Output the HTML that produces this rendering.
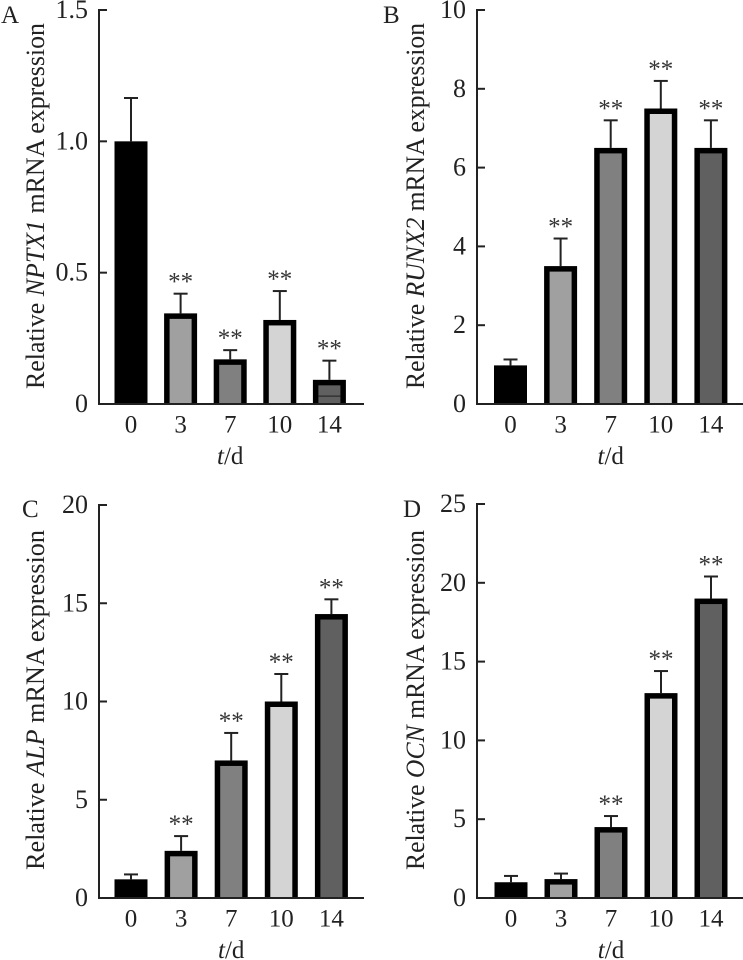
<!DOCTYPE html>
<html lang="en">
<head>
<meta charset="utf-8">
<title>Relative mRNA expression over time</title>
<style>
html,body{margin:0;padding:0;background:#fff;width:743px;height:960px;overflow:hidden}
svg{display:block;position:absolute;left:0;top:0;filter:blur(0.35px)}
text{font-family:"Liberation Serif",serif;fill:#222}
</style>
</head>
<body>
<svg id="figure" width="743" height="960" viewBox="0 0 743 960" xmlns="http://www.w3.org/2000/svg"></svg>
<script>
// Shared categories and labels
const categories = ['0', '3', '7', '10', '14'];
const barFills = ['#000000', '#a0a0a0', '#808080', '#d4d4d4', '#606060'];

// Panel A: NPTX1
const valuesA = [1, 0.345, 0.17, 0.32, 0.092];
const errorTopsA = [1.165, 0.42, 0.205, 0.43, 0.165];
const errorLowsA = [null, null, null, null, 0.03];
const significantA = [false, true, true, true, true];
const ticksA = [0, 0.5, 1, 1.5];
const tickLabelsA = ['0', '0.5', '1.0', '1.5'];

// Panel B: RUNX2
const valuesB = [0.98, 3.5, 6.5, 7.5, 6.5];
const errorTopsB = [1.13, 4.2, 7.2, 8.2, 7.2];
const errorLowsB = [null, null, null, null, null];
const significantB = [false, true, true, true, true];
const ticksB = [0, 2, 4, 6, 8, 10];
const tickLabelsB = ['0', '2', '4', '6', '8', '10'];

// Panel C: ALP
const valuesC = [0.95, 2.4, 7, 10, 14.45];
const errorTopsC = [1.2, 3.15, 8.4, 11.4, 15.2];
const errorLowsC = [null, null, null, null, null];
const significantC = [false, true, true, true, true];
const ticksC = [0, 5, 10, 15, 20];
const tickLabelsC = ['0', '5', '10', '15', '20'];

// Panel D: OCN
const valuesD = [1, 1.2, 4.5, 13, 19];
const errorTopsD = [1.4, 1.55, 5.2, 14.4, 20.4];
const errorLowsD = [null, null, null, null, null];
const significantD = [false, false, true, true, true];
const ticksD = [0, 5, 10, 15, 20, 25];
const tickLabelsD = ['0', '5', '10', '15', '20', '25'];

const NS = 'http://www.w3.org/2000/svg';
const figure = document.getElementById('figure');

function make(parent, tag, attrs, txt) {
  const el = document.createElementNS(NS, tag);
  for (const k in attrs) el.setAttribute(k, attrs[k]);
  if (txt !== undefined) el.textContent = txt;
  parent.appendChild(el);
  return el;
}

function drawPanel(cfg) {
  const g = make(figure, 'g', {});
  
  

  const maxV = cfg.ticks[cfg.ticks.length - 1];
  const yScale = v => cfg.base - (v / maxV) * (cfg.base - cfg.top);
  const xScale = i => cfg.x0 + i * cfg.step;

  // Panel letter
  const letter = make(g, 'text', {x: cfg.letterX, y: cfg.letterY, 'font-size': 25}, cfg.letter);
  
  

  // Bars
  cfg.values.forEach((v, i) => {
    const cx = xScale(i), w = 33, bw = 5.5;
    const yTop = yScale(v), yErr = yScale(cfg.errorTops[i]);

    const errLine = make(g, 'line', {x1: cx, x2: cx, y1: yErr, y2: yTop, stroke: '#222', 'stroke-width': 2});
    
    

    const errCap = make(g, 'line', {x1: cx - 7, x2: cx + 7, y1: yErr, y2: yErr, stroke: '#222', 'stroke-width': 2});
    
    

    const outer = make(g, 'rect', {x: cx - w / 2, y: yTop, width: w, height: cfg.base - yTop, fill: '#000'});
    
    

    const innerH = cfg.base - yTop - bw;
    if (i > 0 && innerH > 0) {
      const inner = make(g, 'rect', {x: cx - w / 2 + bw, y: yTop + bw, width: w - 2 * bw, height: innerH, fill: barFills[i]});
      
      
    }

    if (cfg.errorLows[i] !== null) {
      const yLow = yScale(cfg.errorLows[i]);
      const lowCap = make(g, 'line', {x1: cx - w / 2 + bw, x2: cx + w / 2 - bw, y1: yLow, y2: yLow, stroke: '#333', 'stroke-width': 1.5});
      
      
    }

    if (cfg.significant[i]) {
      const stars = make(g, 'text', {x: cx, y: yErr - 4, 'font-size': 25, 'text-anchor': 'middle', style: 'fill:#333'}, '**');
      
      
    }

    const xt = make(g, 'text', {x: cx, y: cfg.base + 28.5, 'font-size': 25, 'text-anchor': 'middle'}, categories[i]);
    
    
  });

  // Axes
  const yAxis = make(g, 'line', {x1: cfg.axisX, x2: cfg.axisX, y1: cfg.top - 1, y2: cfg.base + 1, stroke: '#222', 'stroke-width': 2});
  
  

  const xAxis = make(g, 'line', {x1: cfg.axisX - 1, x2: cfg.axisEnd, y1: cfg.base, y2: cfg.base, stroke: '#222', 'stroke-width': 2});
  
  

  cfg.ticks.forEach((t, i) => {
    const y = yScale(t);
    if (t !== 0) {
      const tick = make(g, 'line', {x1: cfg.axisX, x2: cfg.axisX + 8, y1: y, y2: y, stroke: '#222', 'stroke-width': 2});
      
      
    }
    const lab = make(g, 'text', {x: cfg.axisX - 11, y: y + 8, 'font-size': 26, 'text-anchor': 'end'}, cfg.tickLabels[i]);
    
    
  });

  // X axis title
  const xTitle = make(g, 'text', {x: cfg.x0 + 2 * cfg.step, y: cfg.base + 60, 'font-size': 25, 'text-anchor': 'middle'});
  
  
  make(xTitle, 'tspan', {'font-style': 'italic'}, 't');
  make(xTitle, 'tspan', {}, '/d');

  // Y axis title
  const yTitle = make(g, 'text', {
    transform: 'translate(' + cfg.titleX + ',' + cfg.titleBottom + ') rotate(-90)',
    x: 0, y: 0, 'font-size': 26.5,
    textLength: cfg.titleLen, lengthAdjust: 'spacingAndGlyphs'
  });
  
  
  make(yTitle, 'tspan', {}, 'Relative ');
  make(yTitle, 'tspan', {'font-style': 'italic'}, cfg.gene);
  make(yTitle, 'tspan', {}, ' mRNA expression');
}

drawPanel({letter: 'A', gene: 'NPTX1', values: valuesA, errorTops: errorTopsA, errorLows: errorLowsA, significant: significantA, ticks: ticksA, tickLabels: tickLabelsA,
  axisX: 99, axisEnd: 364, top: 10, base: 404, x0: 131, step: 49.6, letterX: 1, letterY: 23, titleX: 44, titleBottom: 389, titleLen: 366});
drawPanel({letter: 'B', gene: 'RUNX2', values: valuesB, errorTops: errorTopsB, errorLows: errorLowsB, significant: significantB, ticks: ticksB, tickLabels: tickLabelsB,
  axisX: 477, axisEnd: 743, top: 10, base: 404, x0: 510.5, step: 50.1, letterX: 383, letterY: 23, titleX: 424, titleBottom: 389, titleLen: 366});
drawPanel({letter: 'C', gene: 'ALP', values: valuesC, errorTops: errorTopsC, errorLows: errorLowsC, significant: significantC, ticks: ticksC, tickLabels: tickLabelsC,
  axisX: 99, axisEnd: 364, top: 505, base: 898, x0: 131, step: 50.1, letterX: 22, letterY: 517, titleX: 44, titleBottom: 870, titleLen: 340});
drawPanel({letter: 'D', gene: 'OCN', values: valuesD, errorTops: errorTopsD, errorLows: errorLowsD, significant: significantD, ticks: ticksD, tickLabels: tickLabelsD,
  axisX: 477, axisEnd: 743, top: 504, base: 898, x0: 511, step: 50, letterX: 403, letterY: 517, titleX: 424, titleBottom: 870, titleLen: 340});
</script>
</body>
</html>
